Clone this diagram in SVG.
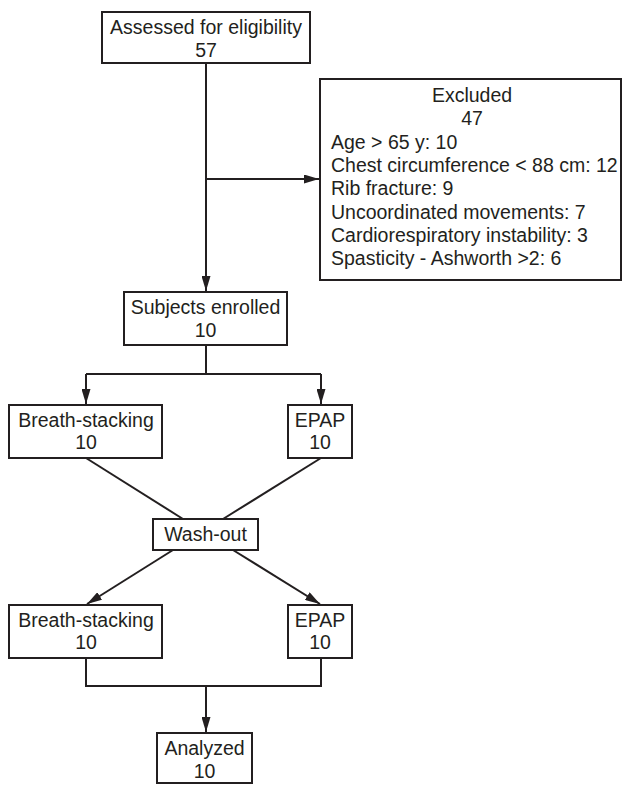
<svg xmlns="http://www.w3.org/2000/svg" width="623" height="785" viewBox="0 0 623 785">
<style>
rect.box{fill:#fff;stroke:#231f20;stroke-width:2}
text{font-family:"Liberation Sans",Arial,sans-serif;font-size:19.5px;fill:#231f20}
.c{text-anchor:middle}
.ln{fill:none;stroke:#231f20;stroke-width:2}
</style>
<defs>
<marker id="ah" viewBox="0 0 15 9" refX="15" refY="4.5" markerWidth="15" markerHeight="9" markerUnits="userSpaceOnUse" orient="auto">
<path d="M0,0 L15,4.5 L0,9 Z" fill="#231f20"/>
</marker>
</defs>
<rect width="623" height="785" fill="#fff"/>
<g id="connectors">
<path class="ln" d="M206,63 V291" marker-end="url(#ah)"/>
<path class="ln" d="M206,179 H319" marker-end="url(#ah)"/>
<path class="ln" d="M206,345 V374 M86,374 H321"/>
<path class="ln" d="M86,374 V404" marker-end="url(#ah)"/>
<path class="ln" d="M321,374 V404" marker-end="url(#ah)"/>
<path class="ln" d="M86,458 L183,519"/>
<path class="ln" d="M321,458 L223,519"/>
<path class="ln" d="M173,550 L87,604" marker-end="url(#ah)"/>
<path class="ln" d="M233,550 L320,604" marker-end="url(#ah)"/>
<path class="ln" d="M86,658 V686 H321 V658"/>
<path class="ln" d="M206,686 V732" marker-end="url(#ah)"/>
</g>
<g id="assessed">
<rect class="box" x="102" y="12" width="208" height="51"/>
<text class="c" x="206" y="34">Assessed for eligibility</text>
<text class="c" x="206" y="57">57</text>
</g>
<g id="excluded">
<rect class="box" x="320" y="79" width="301" height="201"/>
<text class="c" x="472" y="102">Excluded</text>
<text class="c" x="472" y="125">47</text>
<text x="331" y="149">Age &gt; 65 y: 10</text>
<text x="331" y="172">Chest circumference &lt; 88 cm: 12</text>
<text x="331" y="195">Rib fracture: 9</text>
<text x="331" y="219">Uncoordinated movements: 7</text>
<text x="331" y="242">Cardiorespiratory instability: 3</text>
<text x="331" y="265">Spasticity - Ashworth &gt;2: 6</text>
</g>
<g id="enrolled">
<rect class="box" x="124" y="292" width="163" height="53"/>
<text class="c" x="205.5" y="314">Subjects enrolled</text>
<text class="c" x="205.5" y="337">10</text>
</g>
<g id="bs1">
<rect class="box" x="9" y="405" width="153" height="53"/>
<text class="c" x="86" y="427">Breath-stacking</text>
<text class="c" x="86" y="449">10</text>
</g>
<g id="epap1">
<rect class="box" x="288" y="405" width="64" height="53"/>
<text class="c" x="320" y="427">EPAP</text>
<text class="c" x="320" y="449">10</text>
</g>
<g id="washout">
<rect class="box" x="153" y="519" width="105" height="31"/>
<text class="c" x="205.5" y="541">Wash-out</text>
</g>
<g id="bs2">
<rect class="box" x="9" y="605" width="153" height="53"/>
<text class="c" x="86" y="627">Breath-stacking</text>
<text class="c" x="86" y="649">10</text>
</g>
<g id="epap2">
<rect class="box" x="288" y="605" width="64" height="53"/>
<text class="c" x="320" y="627">EPAP</text>
<text class="c" x="320" y="649">10</text>
</g>
<g id="analyzed">
<rect class="box" x="157" y="733" width="95" height="50"/>
<text class="c" x="204.5" y="755">Analyzed</text>
<text class="c" x="204.5" y="778">10</text>
</g>
</svg>
